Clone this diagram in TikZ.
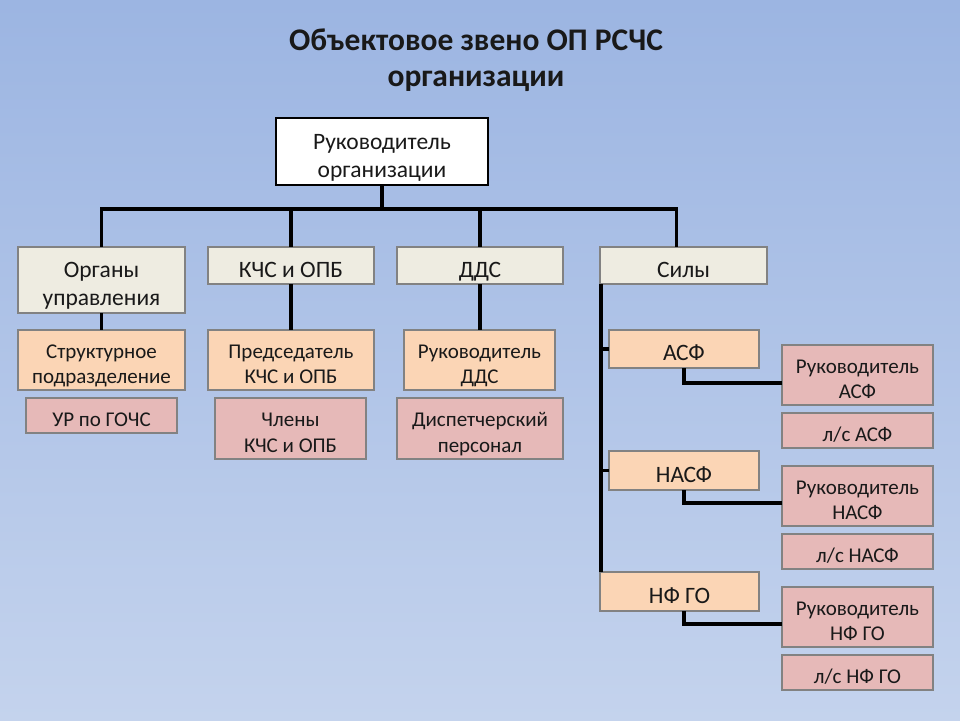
\documentclass[tikz,border=0pt]{standalone}
\usepackage{fontspec}
\setmainfont{Carlito}
\definecolor{bgtop}{RGB}{156,181,226}
\definecolor{bgbot}{RGB}{196,211,237}
\definecolor{lvltwo}{RGB}{238,236,225}
\definecolor{peach}{RGB}{251,213,181}
\definecolor{pinkbox}{RGB}{230,185,184}
\definecolor{edgegray}{RGB}{130,130,130}
\newcommand\upL{\rule{0pt}{29.5pt}}
\newcommand\dnL{\rule[-6pt]{0pt}{6pt}}
\newcommand\upS{\rule{0pt}{27pt}}
\newcommand\dnS{\rule[-5.5pt]{0pt}{5.5pt}}
\tikzset{
  base/.style={anchor=north west, inner sep=0pt, outer sep=0pt, align=center,
    font=\fontsize{23.5}{28}\selectfont, text=black!90},
  topbox/.style={base, draw=black, line width=2pt, fill=white},
  grey/.style={base, draw=edgegray, line width=1.2pt, fill=lvltwo},
  peachbox/.style={base, draw=edgegray, line width=1.2pt, fill=peach},
  pinkb/.style={base, draw=edgegray, line width=1.2pt, fill=pinkbox},
  sm/.style={font=\fontsize{21}{25.5}\selectfont},
  wh/.style 2 args={minimum width=#1pt, minimum height=#2pt},
  conn/.style={draw=black, line width=3.5pt},
}
\begin{document}
\begin{tikzpicture}[x=1pt,y=-1pt]
\shade[top color=bgtop, bottom color=bgbot] (0,0) rectangle (960,720);
\useasboundingbox (0,0) rectangle (960,720);

\node[font=\bfseries\fontsize{31.5}{36}\selectfont, text=black!90, align=center] (title) at (476,60)
  {Объектовое звено ОП РСЧС\\организации};

\node[topbox, wh={212}{67}] (top) at (276,118) {\upL Руководитель\\организации\dnL};

\node[grey, wh={167}{66}] (org) at (18,247) {\upL Органы\\управления\dnL};
\node[grey, wh={166}{37}] (kchs) at (208,247) {\upL КЧС и ОПБ\dnL};
\node[grey, wh={166}{37}] (dds) at (397,247) {\upL ДДС\dnL};
\node[grey, wh={167}{37}] (sily) at (600,247) {\upL Силы\dnL};

\node[peachbox, wh={167}{60}, sm] (struct) at (18,330) {\upS Структурное\\подразделение\dnS};
\node[peachbox, wh={166}{60}, sm] (pred) at (208,330) {\upS Председатель\\КЧС и ОПБ\dnS};
\node[peachbox, wh={151}{60}, sm] (rdds) at (404,330) {\upS Руководитель\\ДДС\dnS};

\node[pinkb, wh={151}{35}, sm] (ur) at (26,398) {\upS УР по ГОЧС\dnS};
\node[pinkb, wh={151}{61}, sm] (chleny) at (215,398) {\upS Члены\\КЧС и ОПБ\dnS};
\node[pinkb, wh={166}{61}, sm] (disp) at (397,398) {\upS Диспетчерский\\персонал\dnS};

\node[peachbox, wh={150}{38}] (asf) at (609,330) {\upL АСФ\dnL};
\node[peachbox, wh={150}{39}] (nasf) at (609,451) {\upL НАСФ\dnL};
\node[peachbox, wh={159}{39}] (nfgo) at (600,572) {\upL НФ ГО\dnL};

\node[pinkb, wh={151}{60}, sm] (rasf) at (782,345) {\upS Руководитель\\АСФ\dnS};
\node[pinkb, wh={151}{35}, sm] (lsasf) at (782,413) {\upS л/с АСФ\dnS};
\node[pinkb, wh={151}{60}, sm] (rnasf) at (782,466) {\upS Руководитель\\НАСФ\dnS};
\node[pinkb, wh={151}{35}, sm] (lsnasf) at (782,534) {\upS л/с НАСФ\dnS};
\node[pinkb, wh={151}{60}, sm] (rnfgo) at (782,587) {\upS Руководитель\\НФ ГО\dnS};
\node[pinkb, wh={151}{35}, sm] (lsnfgo) at (782,655) {\upS л/с НФ ГО\dnS};

% connectors
\coordinate (bus) at (0,209);
\coordinate (sdrop) at ([xshift=-7pt]sily.north);
\draw[conn] (top.south) -- (top.south |- bus);
\draw[conn, line cap=rect] (org.north |- bus) -- (sdrop |- bus);
\draw[conn] (org.north |- bus) -- (org.north);
\draw[conn] (kchs.north |- bus) -- (kchs.north);
\draw[conn] (dds.north |- bus) -- (dds.north);
\draw[conn] (sdrop |- bus) -- (sdrop);

\draw[conn] (org.south) -- (struct.north);
\draw[conn] (kchs.south) -- (pred.north);
\draw[conn] (dds.south) -- (dds.south |- rdds.north);

\coordinate (sv) at ([xshift=1pt]sily.south west);
\draw[conn] (sv) -- (sv |- nfgo.north);
\draw[conn] (sv |- asf.west) -- (asf.west);
\draw[conn] (sv |- nasf.west) -- (nasf.west);

\draw[conn] (asf.south) |- ([yshift=-8pt]rasf.west);
\draw[conn] (nasf.south) |- ([yshift=-7pt]rnasf.west);
\draw[conn] ([xshift=4.5pt]nfgo.south) |- ([yshift=-7pt]rnfgo.west);
\end{tikzpicture}
\end{document}
